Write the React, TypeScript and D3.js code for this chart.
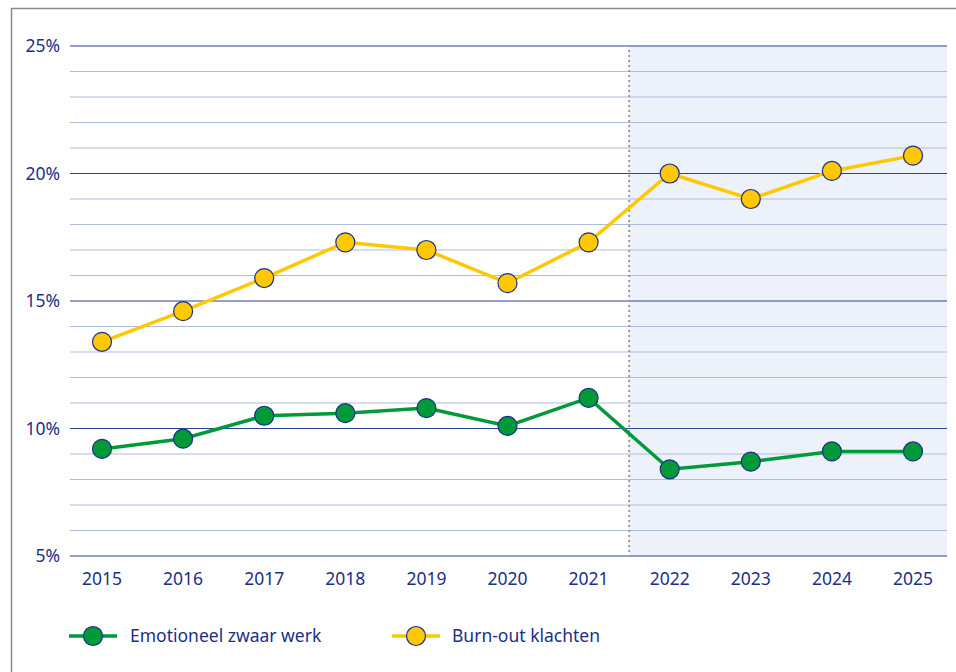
import * as d3 from 'd3';

const years = ['2015', '2016', '2017', '2018', '2019', '2020', '2021', '2022', '2023', '2024', '2025'];
const emotioneel = [9.2, 9.6, 10.5, 10.6, 10.8, 10.1, 11.2, 8.4, 8.7, 9.1, 9.1];
const burnout = [13.4, 14.6, 15.9, 17.3, 17.0, 15.7, 17.3, 20.0, 19.0, 20.1, 20.7];
const majorTicks = [5, 10, 15, 20, 25];
const seriesNames = ['Emotioneel zwaar werk', 'Burn-out klachten'];

const W = 956;
const H = 672;
const left = 70;
const right = 947;
const top = 46;
const bottom = 556;

const navy = '#1b2f8a';
const green = '#009a38';
const yellow = '#ffc800';
const font = "'Noto Sans', Lato, sans-serif";

export default function App() {
  const x = d3.scalePoint<string>().domain(years).range([102, 913]);
  const y = d3.scaleLinear().domain([5, 25]).range([bottom, top]);
  const minor = d3.range(5, 26, 1).filter((v) => v % 5 !== 0);
  const splitX = ((x('2021') as number) + (x('2022') as number)) / 2;

  const line = d3
    .line<number>()
    .x((_, i) => x(years[i]) as number)
    .y((d) => y(d));

  const series = [
    { name: seriesNames[0], values: emotioneel, color: green },
    { name: seriesNames[1], values: burnout, color: yellow },
  ];
  // legend item geometry
  const legendPos = [
    { x1: 69, cx: 93, x2: 117, tx: 130 },
    { x1: 392, cx: 416, x2: 440, tx: 452 },
  ];
  const ly = 636;

  return (
    <svg width={W} height={H} style={{ position: 'absolute', left: 0, top: 0 }}>
      <rect x={0} y={0} width={W} height={H} fill="#fff" />
      <line x1={11.5} y1={8} x2={11.5} y2={H} stroke="#8a8a8a" strokeWidth={1.5} />
      <line x1={11} y1={8.5} x2={W} y2={8.5} stroke="#8a8a8a" strokeWidth={1.5} />

      <rect x={splitX} y={top} width={right - splitX} height={bottom - top} fill="#edf2fa" />

      {minor.map((v) => (
        <line key={'m' + v} x1={left} x2={right} y1={y(v)} y2={y(v)} stroke="#aebbd9" strokeWidth={1.2} />
      ))}
      {majorTicks.map((v) => (
        <g key={'M' + v}>
          <line x1={left} x2={right} y1={y(v)} y2={y(v)} stroke="#2c4196" strokeWidth={1.2} />
          <text x={60} y={y(v)} dy="0.35em" textAnchor="end" fill={navy} fontFamily={font} fontSize={17.5}>
            {v}%
          </text>
        </g>
      ))}

      <line x1={splitX} x2={splitX} y1={top + 4} y2={bottom} stroke="#9a9a9a" strokeWidth={2} strokeDasharray="2,3" />

      {years.map((yr) => (
        <text key={yr} x={x(yr) as number} y={585} textAnchor="middle" fill={navy} fontFamily={font} fontSize={17.5}>
          {yr}
        </text>
      ))}

      {series.map((s) => (
        <g key={s.name}>
          <path d={line(s.values) || ''} fill="none" stroke={s.color} strokeWidth={3.5} />
          {s.values.map((v, i) => (
            <circle key={i} cx={x(years[i]) as number} cy={y(v)} r={9.5} fill={s.color} stroke={navy} strokeWidth={1.2} />
          ))}
        </g>
      ))}

      {series.map((s, i) => {
        const p = legendPos[i];
        return (
          <g key={'l' + s.name}>
            <line x1={p.x1} x2={p.x2} y1={ly} y2={ly} stroke={s.color} strokeWidth={3.5} />
            <circle cx={p.cx} cy={ly} r={9.5} fill={s.color} stroke={navy} strokeWidth={1.2} />
            <text x={p.tx} y={ly} dy="0.35em" fill={navy} fontFamily={font} fontSize={17.5}>
              {s.name}
            </text>
          </g>
        );
      })}
    </svg>
  );
}
